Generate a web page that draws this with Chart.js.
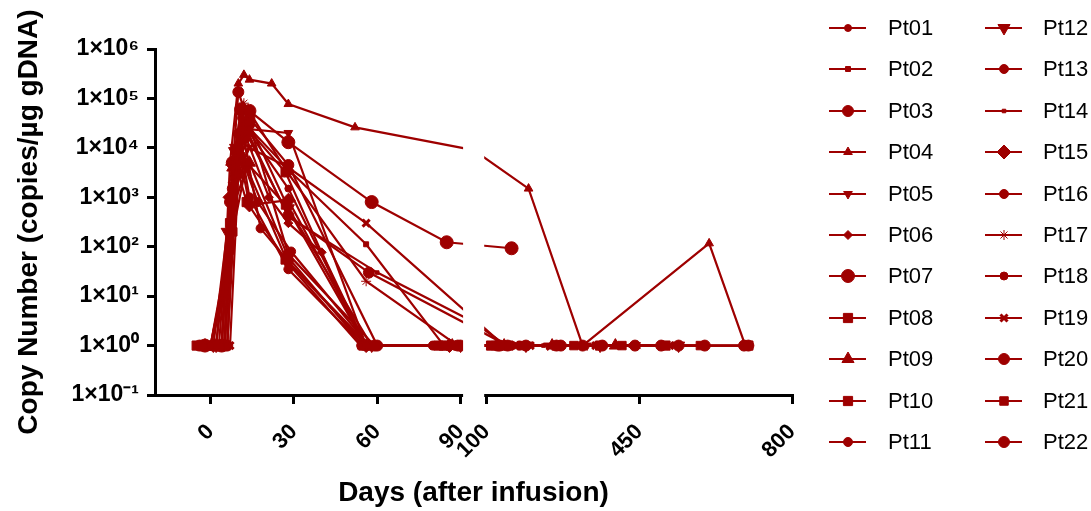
<!DOCTYPE html>
<html>
<head>
<meta charset="utf-8">
<script src="https://cdn.jsdelivr.net/npm/chart.js@4.4.1/dist/chart.umd.min.js"></script>
<style>
  html, body { margin: 0; padding: 0; background: #fff; }
  #wrap { position: relative; width: 1091px; height: 511px; }
  #legend span { position: absolute; font: 22px "Liberation Sans", Arial, sans-serif; line-height: 26px; color: #000; white-space: nowrap; }
  #legend canvas { position: absolute; }
</style>
</head>
<body>
<div id="wrap">
  <canvas id="chart" width="1091" height="511"></canvas>
  <div id="legend"></div>
</div>
<script>
const patients = ['Pt01', 'Pt02', 'Pt03', 'Pt04', 'Pt05', 'Pt06', 'Pt07', 'Pt08', 'Pt09', 'Pt10', 'Pt11',
                  'Pt12', 'Pt13', 'Pt14', 'Pt15', 'Pt16', 'Pt17', 'Pt18', 'Pt19', 'Pt20', 'Pt21', 'Pt22'];

// days after infusion / copies per ug gDNA (1 = below detection)
const pt01Days = [-5, 0, 7, 11, 14, 28, 56, 85, 120, 180, 365];
const pt01Copies = [1, 1, 150, 40000, 20000, 1500, 1, 1, 1, 1, 1];
const pt02Days = [0, 4, 8, 11, 14, 29, 56, 84];
const pt02Copies = [1, 1, 2500, 50000, 25000, 3200, 112, 1];
const pt03Days = [-4, 3, 7, 10, 14, 28, 59, 90, 130, 190, 270, 365, 540, 700];
const pt03Copies = [1, 1, 800, 135000, 30000, 70, 1, 1, 1, 1, 1, 1, 1, 1];
const pt04Days = [-3, 4, 7, 10, 12, 14, 22, 28, 52, 95, 196, 320, 610, 693];
const pt04Copies = [1, 1, 5000, 200000, 300000, 240000, 200000, 77000, 26000, 9000, 1500, 1, 117, 1];
const pt05Days = [0, 5, 8, 14, 28, 56, 85, 150, 240, 330, 540];
const pt05Copies = [1, 1, 9000, 24000, 20000, 1, 1, 1, 1, 1, 1];
const pt06Days = [0, 6, 9, 13, 21, 28, 40, 56, 84];
const pt06Copies = [1, 1, 3000, 15000, 1000, 300, 77, 1, 1];
const pt07Days = [-2, 4, 8, 11, 14, 28, 58, 85, 157];
const pt07Copies = [1, 1, 5000, 60000, 56000, 13000, 800, 123, 93];
const pt08Days = [0, 5, 9, 12, 27, 55, 82, 110, 150];
const pt08Copies = [1, 1, 3000, 30000, 3200, 1, 1, 1, 1];
const pt09Days = [-2, 4, 8, 11, 14, 28, 55, 87, 140, 250, 395];
const pt09Copies = [1, 1, 4000, 20000, 5000, 60, 1, 1, 1, 1, 1];
const pt10Days = [-5, 2, 7, 10, 13, 27, 57, 84, 130, 260, 360, 510, 700];
const pt10Copies = [1, 1, 300, 3000, 800, 55, 1, 1, 1, 1, 1, 1, 1];
const pt11Days = [0, 7, 10, 14, 28, 55, 88, 175];
const pt11Copies = [1, 80, 20000, 1000, 35, 1, 1, 1];
const pt12Days = [1, 6, 9, 14, 28, 58, 90, 190, 360, 540];
const pt12Copies = [1, 200, 10000, 30000, 600, 1, 1, 1, 1, 1];
const pt13Days = [0, 7, 11, 17, 29, 57, 88];
const pt13Copies = [1, 100, 7000, 800, 80, 1, 1];
const pt14Days = [-1, 6, 9, 12, 28, 60, 95, 145, 230, 430];
const pt14Copies = [1, 1, 1000, 30000, 400, 30, 3, 1, 1, 1];
const pt15Days = [2, 7, 10, 14, 28, 56, 86];
const pt15Copies = [1, 1000, 10000, 700, 870, 1, 1];
const pt16Days = [0, 6, 9, 12, 18, 28, 56, 80];
const pt16Copies = [1, 20, 6000, 15000, 235, 50, 1, 1];
const pt17Days = [-1, 5, 8, 12, 28, 56, 89, 135, 270, 445];
const pt17Copies = [1, 1, 2000, 80000, 3000, 20, 1, 1, 1, 1];
const pt18Days = [0, 5, 8, 13, 28, 54, 80, 160];
const pt18Copies = [1, 1, 600, 4000, 45, 1, 1, 1];
const pt19Days = [0, 7, 10, 14, 28, 56, 140, 200, 350, 520];
const pt19Copies = [1, 1, 3000, 10000, 4000, 300, 1, 1, 1, 1];
const pt20Days = [-3, 5, 8, 12, 28, 57, 148, 260, 440, 600];
const pt20Copies = [1, 1, 1500, 25000, 430, 30, 1, 1, 1, 1];
const pt21Days = [0, 5, 8, 13, 27, 56, 85, 120, 180, 300, 410, 590];
const pt21Copies = [1, 1, 200, 5000, 700, 1, 1, 1, 1, 1, 1, 1];
const pt22Days = [1, 6, 9, 14, 28, 60, 89, 125, 320, 500, 690];
const pt22Copies = [1, 1, 3000, 40000, 4500, 1, 1, 1, 1, 1, 1];

const xTicks = [0, 30, 60, 90, 100, 450, 800];
const yTicks = [0.1, 1, 10, 100, 1000, 10000, 100000, 1000000];

const dayLists = [pt01Days, pt02Days, pt03Days, pt04Days, pt05Days, pt06Days, pt07Days, pt08Days, pt09Days, pt10Days, pt11Days,
                  pt12Days, pt13Days, pt14Days, pt15Days, pt16Days, pt17Days, pt18Days, pt19Days, pt20Days, pt21Days, pt22Days];
const copyLists = [pt01Copies, pt02Copies, pt03Copies, pt04Copies, pt05Copies, pt06Copies, pt07Copies, pt08Copies, pt09Copies, pt10Copies, pt11Copies,
                   pt12Copies, pt13Copies, pt14Copies, pt15Copies, pt16Copies, pt17Copies, pt18Copies, pt19Copies, pt20Copies, pt21Copies, pt22Copies];

// marker look per patient (GraphPad style symbols)
const markers = [
  { style: 'circle', r: 3.5 }, { style: 'rect', r: 3.5 }, { style: 'circle', r: 5.5 }, { style: 'triangle', r: 5 },
  { style: 'triangle', r: 5, rot: 180 }, { style: 'rectRot', r: 4.5 }, { style: 'circle', r: 6.5 }, { style: 'rect', r: 6.5 },
  { style: 'triangle', r: 7 }, { style: 'rect', r: 6.5 }, { style: 'circle', r: 4.5 }, { style: 'triangle', r: 7, rot: 180 },
  { style: 'circle', r: 4.5 }, { style: 'rect', r: 2.5 }, { style: 'rectRot', r: 7 }, { style: 'circle', r: 4.5 },
  { style: 'star', r: 5 }, { style: 'circle', r: 4 }, { style: 'crossRot', r: 5 }, { style: 'circle', r: 5.5 },
  { style: 'rect', r: 6 }, { style: 'circle', r: 5.5 }
];

const RED = '#9e0000';
const FONT = '"Liberation Sans", Arial, sans-serif';

// broken x axis: 0-90 linear, then 100-800 compressed
const BREAK_LO = 90, BREAK_HI = 100;
const GAP = 9.4;
const LONG_SCALE = 0.157;
const toAxis = d => {
  if (d <= BREAK_LO) return d;
  if (d < BREAK_HI) return BREAK_LO + (d - BREAK_LO) / (BREAK_HI - BREAK_LO) * GAP;
  return BREAK_LO + GAP + (d - BREAK_HI) * LONG_SCALE;
};

const sup = { '-': '\u207B', '0': '\u2070', '1': '\u00B9', '2': '\u00B2', '3': '\u00B3', '4': '\u2074',
              '5': '\u2075', '6': '\u2076', '7': '\u2077', '8': '\u2078', '9': '\u2079' };
const sciLabel = v => '1\u00D710' + String(Math.round(Math.log10(v))).split('').map(c => sup[c]).join('');

const axisBreak = {
  id: 'axisBreak',
  afterDatasetsDraw(chart) {
    const { ctx, chartArea, scales: { x } } = chart;
    const a = x.getPixelForValue(toAxis(BREAK_LO)) + 2.5;
    const b = x.getPixelForValue(toAxis(BREAK_HI)) - 2.5;
    ctx.save();
    ctx.fillStyle = '#fff';
    ctx.fillRect(a, chartArea.top - 20, b - a, chartArea.bottom - chartArea.top + 24);
    ctx.restore();
  }
};

new Chart(document.getElementById('chart'), {
  type: 'line',
  data: {
    datasets: patients.map((name, i) => ({
      label: name,
      data: dayLists[i].map((d, k) => ({ x: toAxis(d), y: copyLists[i][k] })),
      borderColor: RED,
      backgroundColor: RED,
      borderWidth: 2.2,
      pointStyle: markers[i].style,
      pointRadius: markers[i].r,
      pointRotation: markers[i].rot || 0,
      pointBorderWidth: markers[i].style === 'crossRot' ? 3 : 1,
      tension: 0
    }))
  },
  options: {
    responsive: false,
    animation: false,
    layout: { padding: { left: 0, top: 49, right: 299, bottom: 0 } },
    plugins: { legend: { display: false }, tooltip: { enabled: false } },
    scales: {
      x: {
        type: 'linear',
        min: -20,
        max: toAxis(800),
        afterBuildTicks: s => { s.ticks = xTicks.map(d => ({ value: toAxis(d) })); },
        afterFit: s => { s.height = 116; },
        border: { display: true, color: '#000', width: 3 },
        grid: { display: true, drawOnChartArea: false, drawTicks: true, tickLength: 9, color: '#000', lineWidth: 3 },
        ticks: {
          autoSkip: false, minRotation: 45, maxRotation: 45, padding: 15, color: '#000',
          font: { family: FONT, size: 22, weight: 'bold' },
          callback: v => {
            const d = xTicks.find(t => Math.abs(toAxis(t) - v) < 1e-6);
            return d === undefined ? '' : String(d);
          }
        },
        title: { display: true, text: 'Days (after infusion)', color: '#000',
                 font: { family: FONT, size: 28, weight: 'bold' }, padding: { top: 0, bottom: 1 } }
      },
      y: {
        type: 'logarithmic',
        min: 0.1,
        max: 1000000,
        afterBuildTicks: s => { s.ticks = yTicks.map(v => ({ value: v })); },
        afterFit: s => { s.width = 155; },
        border: { display: true, color: '#000', width: 3 },
        grid: { display: true, drawOnChartArea: false, drawTicks: true, tickLength: 8, color: '#000', lineWidth: 3 },
        ticks: { padding: 8, color: '#000', font: { family: FONT, size: 23, weight: 'bold' }, callback: v => sciLabel(v) },
        title: { display: true, text: 'Copy Number (copies/\u00B5g gDNA)', color: '#000',
                 font: { family: FONT, size: 28, weight: 'bold' }, padding: { top: 12, bottom: 0 } }
      }
    }
  },
  plugins: [axisBreak]
});

// legend: two columns of line + symbol, built from the same series list
const legend = document.getElementById('legend');
patients.forEach((name, i) => {
  const col = i < 11 ? 0 : 1;
  const row = i % 11;
  const yc = 28 + row * 41.4;
  const iconX = col === 0 ? 829 : 985;
  const textX = col === 0 ? 888 : 1043;
  const cvs = document.createElement('canvas');
  cvs.width = 38; cvs.height = 20;
  cvs.style.left = iconX + 'px';
  cvs.style.top = (yc - 10) + 'px';
  const c = cvs.getContext('2d');
  c.strokeStyle = RED; c.fillStyle = RED;
  c.lineWidth = 2;
  c.beginPath(); c.moveTo(0, 10); c.lineTo(37, 10); c.stroke();
  const m = markers[i];
  c.lineWidth = m.style === 'crossRot' ? 3 : 1;
  Chart.helpers.drawPoint(c, { pointStyle: m.style, radius: m.r, rotation: m.rot || 0, borderWidth: c.lineWidth }, 19, 10);
  legend.appendChild(cvs);
  const span = document.createElement('span');
  span.textContent = name;
  span.style.left = textX + 'px';
  span.style.top = (yc - 13) + 'px';
  legend.appendChild(span);
});
</script>
</body>
</html>
